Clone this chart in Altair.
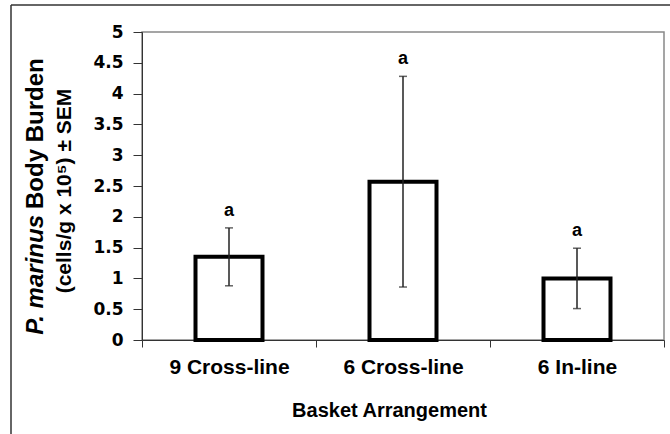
import altair as alt
import pandas as pd

# Body burden by basket arrangement (mean ± SEM, x10^5 cells/g)
categories = ["9 Cross-line", "6 Cross-line", "6 In-line"]
means = [1.35, 2.57, 1.00]
sems = [0.47, 1.71, 0.49]
letters = ["a", "a", "a"]
y_ticks = [0, 0.5, 1, 1.5, 2, 2.5, 3, 3.5, 4, 4.5, 5]

df = pd.DataFrame({
    "arrangement": categories,
    "mean": means,
    "sem": sems,
    "letter": letters,
})
df["lo"] = df["mean"] - df["sem"]
df["hi"] = df["mean"] + df["sem"]

FONT = "Liberation Sans"
W, H = 522, 308

x_axis = alt.Axis(
    title="Basket Arrangement",
    labelAngle=0,
    labelFont=FONT,
    labelFontWeight="bold",
    labelFontSize=21,
    labelColor="black",
    labelPadding=9,
    tickBand="extent",
    tickSize=7,
    tickColor="#333",
    domainColor="#333",
    titleFont=FONT,
    titleFontWeight="bold",
    titleFontSize=20,
    titleColor="black",
    titlePadding=23,
    titleX=247,
    titleAlign="center",
)
y_axis = alt.Axis(
    title="",
    values=y_ticks,
    format="~g",
    grid=False,
    labelOverlap=False,
    labelFont="DejaVu Sans",
    labelFontWeight="bold",
    labelFontSize=17,
    labelColor="black",
    labelPadding=10,
    tickSize=9,
    tickColor="#333",
    domainColor="#333",
)

x_scale = alt.Scale(paddingInner=0, paddingOuter=0)
y_scale = alt.Scale(domain=[0, 5], nice=False)


def xe():
    return alt.X("arrangement:N", sort=categories, scale=x_scale, axis=x_axis)


def ye(field):
    return alt.Y(field, scale=y_scale, axis=y_axis)


base = alt.Chart(df)

bars = base.mark_bar(
    fill="white", stroke="black", strokeWidth=4, strokeJoin="miter", size=67
).encode(x=xe(), y=ye("mean:Q"))

err = base.mark_rule(color="#222", strokeWidth=1.5).encode(
    x=xe(), y=ye("lo:Q"), y2="hi:Q"
)

cap_hi = base.mark_tick(color="#222", thickness=1.5, size=8).encode(
    x=xe(), y=ye("hi:Q")
)
cap_lo = base.mark_tick(color="#222", thickness=1.5, size=8).encode(
    x=xe(), y=ye("lo:Q")
)

sig = base.mark_text(
    font=FONT, fontWeight="bold", fontSize=18, baseline="middle", dy=-17, color="black"
).encode(x=xe(), y=ye("hi:Q"), text="letter:N")

# Y-axis title, two rotated lines with an italic species name
ytitle_italic = alt.Chart(pd.DataFrame({"t": ["P. marinus"]})).mark_text(
    font=FONT, fontWeight="bold", fontStyle="italic", fontSize=24,
    angle=270, align="right", baseline="middle", color="black",
).encode(x=alt.value(-106), y=alt.value(183), text="t:N")

ytitle_rest = alt.Chart(pd.DataFrame({"t": ["Body Burden"]})).mark_text(
    font=FONT, fontWeight="bold", fontSize=24,
    angle=270, align="left", baseline="middle", color="black",
).encode(x=alt.value(-106), y=alt.value(177), text="t:N")

ytitle_units = alt.Chart(pd.DataFrame({"t": ["(cells/g x 10\u2075) \u00b1 SEM"]})).mark_text(
    font=FONT, fontWeight="bold", fontSize=21,
    angle=270, align="center", baseline="middle", color="black",
).encode(x=alt.value(-77), y=alt.value(159), text="t:N")

# Outer figure frame (top and left edges)
frame_top = alt.Chart(pd.DataFrame({"k": [0]})).mark_rule(color="#333", strokeWidth=1.5).encode(
    x=alt.value(-131), x2=alt.value(540), y=alt.value(-27)
)
frame_left = alt.Chart(pd.DataFrame({"k": [0]})).mark_rule(color="#333", strokeWidth=1.5).encode(
    x=alt.value(-131), y=alt.value(-27), y2=alt.value(420)
)

chart = alt.layer(
    bars, err, cap_hi, cap_lo, sig,
    ytitle_italic, ytitle_rest, ytitle_units,
    frame_top, frame_left,
).properties(
    width=W,
    height=H,
    autosize=alt.AutoSizeParams(type="none"),
    padding={"left": 142, "top": 32, "right": 6, "bottom": 94},
    background="white",
).configure_view(
    stroke="#888", strokeWidth=1.5
)

chart.save("out.html", embed_options={"renderer": "svg", "actions": False})
